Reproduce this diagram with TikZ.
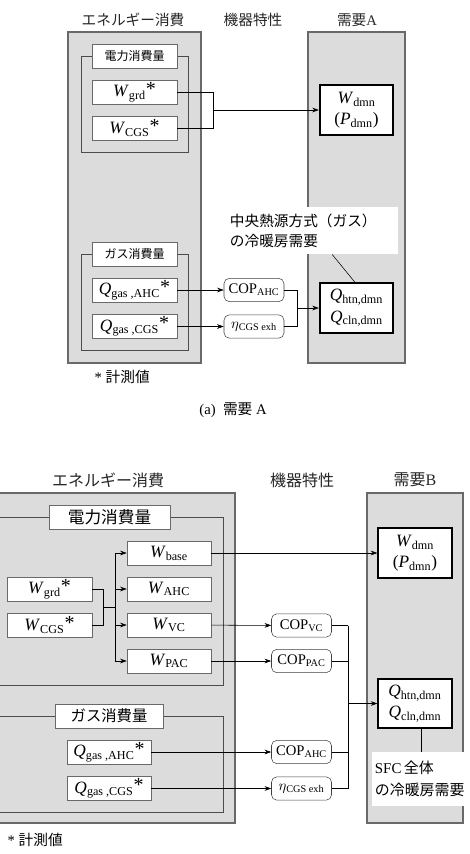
\documentclass[tikz,border=0pt]{standalone}
\usepackage{fontspec}
\setmainfont{Liberation Serif}
\newfontfamily\jp{Noto Sans CJK JP}
\usetikzlibrary{arrows.meta,positioning}

\definecolor{panelgray}{RGB}{220,220,220}
\definecolor{edgegray}{RGB}{105,105,105}
\newcommand{\vsub}[2]{\textit{#1}\textsubscript{#2}}
\newcommand{\msr}{\raisebox{0.15ex}{\fontsize{15}{15}\selectfont *}}

\begin{document}
\begin{tikzpicture}[x=0.75pt, y=-0.75pt, >={Stealth[length=5pt,width=3.5pt]},
  panel/.style={draw=edgegray, fill=panelgray, line width=0.8pt},
  varbox/.style={draw=edgegray, fill=white, inner sep=0pt, minimum width=63.75pt, minimum height=18pt, font=\fontsize{13}{15}\selectfont},
  grouplabel/.style={varbox, font=\jp\fontsize{9}{11}\selectfont},
  devbox/.style={draw=black!75, fill=white, rounded corners=4pt, inner sep=0pt, minimum width=45pt, minimum height=17.5pt, font=\fontsize{11}{13}\selectfont},
  demand/.style={draw=black, line width=1.4pt, fill=white, inner sep=0pt, minimum width=55pt, minimum height=37pt, align=center, font=\fontsize{13}{16}\selectfont},
  title/.style={font=\jp\fontsize{11}{13}\selectfont, text=black!85},
  callout/.style={fill=white, inner sep=2pt, align=left, font=\jp\fontsize{11}{15}\selectfont},
  bracket/.style={draw=black!70, line width=0.6pt}]
  \useasboundingbox (0,0) rectangle (469,854);
  \clip (0,0) rectangle (469,854);

  % (a) demand A
  \node[title] (ttlEA) at (133,20) {エネルギー消費};
  \node[title] (ttlDA) at (253,20) {機器特性};
  \node[title] (ttlNA) at (357,20) {需要{\rmfamily A}};
  \draw[panel] (68,32) rectangle (201,363);
  \draw[panel] (308,32) rectangle (405,363);

  \draw[bracket] (134.5,56) -- (81,56) -- (81,152) -- (188,152) -- (188,56) -- (134.5,56);
  \node[grouplabel] (elecA) at (134.5,56) {電力消費量};
  \node[varbox] (wgrdA) at (134.5,92) {\vsub{W}{grd}\msr};
  \node[varbox] (wcgsA) at (134.5,128) {\vsub{W}{CGS}\msr};

  \draw[bracket] (134.5,254) -- (81,254) -- (81,350) -- (188,350) -- (188,254) -- (134.5,254);
  \node[grouplabel] (gasA) at (134.5,254) {ガス消費量};
  \node[varbox] (qahcA) at (134.5,290) {\vsub{Q}{gas ,AHC}\msr};
  \node[varbox] (qcgsA) at (134.5,326.5) {\vsub{Q}{gas ,CGS}\msr};

  \node[devbox] (copahcA) at (254,290) {COP\textsubscript{AHC}};
  \node[devbox] (etaA) at (254,326.5) {$\eta$\textsubscript{CGS exh}};

  \node[demand] (wdmnA) at (356.5,110) {\vsub{W}{dmn}\\(\vsub{P}{dmn})};
  \node[demand] (qdmnA) at (356.5,308) {\vsub{Q}{htn,dmn}\\\vsub{Q}{cln,dmn}};

  \coordinate (jA) at (213,110);
  \draw (wgrdA.east) -| (jA);
  \draw (wcgsA.east) -| (jA);
  \draw[->] (jA) -- (wdmnA);
  \draw[->] (qahcA) -- (copahcA);
  \draw[->] (qcgsA) -- (etaA);
  \coordinate (kA) at (297,308);
  \draw (copahcA.east) -| (kA);
  \draw (etaA.east) -| (kA);
  \draw[->] (kA) -- (qdmnA);

  \node[callout, text width=124.25pt, minimum height=35.25pt, anchor=north west] (noteA) at (227,207) {中央熱源方式（ガス）\\の冷暖房需要};
  \draw ([xshift=14.6pt]noteA.south) -- ([xshift=-1.1pt]qdmnA.north);

  \node[font=\fontsize{11}{13}\selectfont, anchor=west] (measA) at (90,377) {*~{\jp 計測値}};
  \node[font=\fontsize{11}{13}\selectfont] (capA) at (233,410) {(a)~~{\jp 需要}~A};

  % (b) demand B
  \node[title, font=\jp\fontsize{12}{14}\selectfont] (ttlEB) at (108,480) {エネルギー消費};
  \node[title, font=\jp\fontsize{12}{14}\selectfont] (ttlDB) at (302,480) {機器特性};
  \node[title, font=\jp\fontsize{12}{14}\selectfont] (ttlNB) at (415,480) {需要{\rmfamily B}};
  \draw[panel] (-5,493) rectangle (235,823);
  \draw[panel] (367,493) rectangle (463,823);

  \draw[bracket] (109.5,517) -- (-5,517) -- (-5,685) -- (223,685) -- (223,517) -- (109.5,517);
  \node[grouplabel, minimum width=90.75pt, font=\jp\fontsize{12.5}{14}\selectfont] (elecB) at (109.5,517.5) {電力消費量};
  \node[varbox] (wgrdB) at (49.5,589.5) {\vsub{W}{grd}\msr};
  \node[varbox] (wcgsB) at (49.5,625) {\vsub{W}{CGS}\msr};
  \node[varbox, minimum width=63pt] (wbaseB) at (169,553) {\vsub{W}{base}};
  \node[varbox, minimum width=63pt] (wahcB) at (169,589) {\vsub{W}{AHC}};
  \node[varbox, minimum width=63pt] (wvcB) at (169,625) {\vsub{W}{VC}};
  \node[varbox, minimum width=63pt] (wpacB) at (169,661) {\vsub{W}{PAC}};

  \draw[bracket] (109,716) -- (-5,716) -- (-5,812) -- (223,812) -- (223,716) -- (109,716);
  \node[grouplabel, minimum width=81pt, font=\jp\fontsize{11.5}{13}\selectfont] (gasB) at (109,716) {ガス消費量};
  \node[varbox, minimum width=63pt] (qahcB) at (109,752) {\vsub{Q}{gas ,AHC}\msr};
  \node[varbox, minimum width=63pt] (qcgsB) at (109,788.5) {\vsub{Q}{gas ,CGS}\msr};

  \node[devbox] (copvcB) at (301.5,625.5) {COP\textsubscript{VC}};
  \node[devbox] (coppacB) at (301.5,661) {COP\textsubscript{PAC}};
  \node[devbox] (copahcB) at (301.5,752) {COP\textsubscript{AHC}};
  \node[devbox] (etaB) at (301.5,788.5) {$\eta$\textsubscript{CGS exh}};

  \node[demand] (wdmnB) at (415,553) {\vsub{W}{dmn}\\(\vsub{P}{dmn})};
  \node[demand] (qdmnB) at (415,703.5) {\vsub{Q}{htn,dmn}\\\vsub{Q}{cln,dmn}};

  \coordinate (jB) at (103,607);
  \coordinate (tB) at (115,607);
  \draw (wgrdB.east) -| (jB);
  \draw (wcgsB.east) -| (jB);
  \draw (jB) -- (tB);
  \draw (tB |- wbaseB.west) -- (tB |- wpacB.west);
  \foreach \n in {wbaseB,wahcB,wvcB,wpacB}
    \draw[->] (tB |- \n.west) -- (\n.west);
  \draw[->] (wbaseB) -- (wdmnB);
  \draw[->] (wvcB) -- (copvcB);
  \draw[->] (wpacB) -- (coppacB);
  \draw[->] (qahcB) -- (copahcB);
  \draw[->] (qcgsB) -- (etaB);
  \coordinate (kB) at (348,703.5);
  \foreach \n in {copvcB,coppacB,copahcB,etaB}
    \draw (\n.east) -- (kB |- \n.east);
  \draw (kB |- copvcB.east) -- (kB |- etaB.east);
  \draw[->] (kB) -- (qdmnB);

  \node[callout, text width=88pt, minimum height=40.5pt, anchor=north west, font=\jp\fontsize{11.2}{16.5}\selectfont] (noteB) at (372,752) {{\rmfamily SFC}\,全体\\の冷暖房需要};
  \draw ([xshift=4.5pt]qdmnB.south) -- (421,752);

  \node[font=\fontsize{11}{13}\selectfont, anchor=west] (measB) at (3,840) {*~{\jp 計測値}};
\end{tikzpicture}
\end{document}
